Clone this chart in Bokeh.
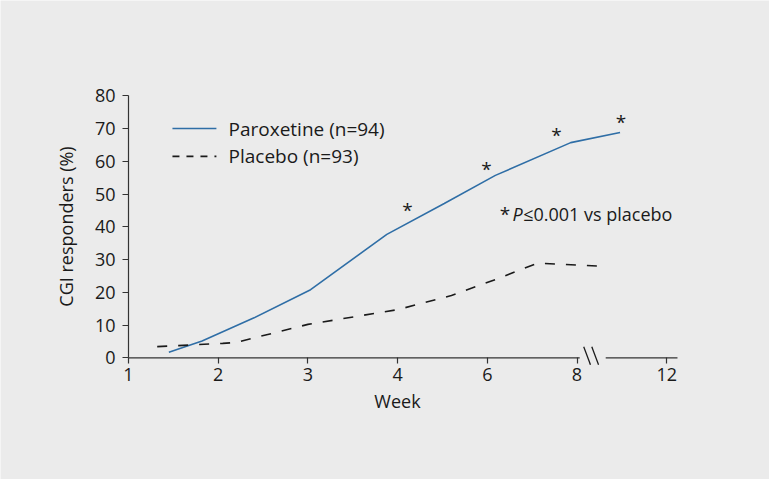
from bokeh.plotting import figure
from bokeh.models import Range1d, FixedTicker, Label
from bokeh.core.properties import value
from bokeh.embed import file_html
from bokeh.resources import INLINE

# ---- data ----
week_labels = ["1", "2", "3", "4", "6", "8", "12"]
week_pos = [0, 1, 2, 3, 4, 5, 6]

parox_x = [0.45, 0.82, 1.40, 2.03, 2.88, 3.52, 4.09, 4.93, 5.48]
parox_y = [1.7, 5.1, 12.2, 20.8, 37.7, 47.1, 55.7, 65.7, 68.8]

placebo_x = [0.32, 1.05, 1.20, 2.00, 3.00, 3.60, 4.10, 4.56, 5.34]
placebo_y = [3.4, 4.4, 4.7, 10.2, 14.7, 19.0, 24.0, 28.9, 27.9]

star_x = [3.11, 3.99, 4.77, 5.49]
star_y = [45.0, 57.6, 67.9, 71.9]

y_ticks = list(range(0, 81, 10))

FONT = "Open Sans"
BG = "#ebebeb"
BLUE = "#2f6ea6"
DARK = "#1a1a1a"
AXC = "#333333"
FS = "18px"

# axis break (in axis units) between "8" and "12"
brk_start, brk_end = 5.03, 5.32
x_axis_end = 6.12

p = figure(width=769, height=479, output_backend="svg", toolbar_location=None,
           x_range=Range1d(-1.427, 7.146), y_range=Range1d(-37.16, 109.1),
           min_border=0)
p.background_fill_color = BG
p.border_fill_color = BG
p.outline_line_color = None
p.grid.grid_line_color = None

# axes fixed at the data origin so that the break marks are not clipped
p.xaxis.fixed_location = 0
p.yaxis.fixed_location = 0
p.yaxis.ticker = FixedTicker(ticks=y_ticks)
p.yaxis.bounds = (0, 80)
p.xaxis.ticker = FixedTicker(ticks=week_pos)
p.xaxis.bounds = (0, 6)
p.xaxis.major_label_overrides = {pos: lab for pos, lab in zip(week_pos, week_labels)}
for ax in (p.xaxis, p.yaxis):
    ax.minor_tick_line_color = None
    ax.major_tick_in = 0
    ax.major_tick_out = 6
    ax.major_tick_line_color = AXC
    ax.major_tick_line_width = 1.2
    ax.axis_line_color = AXC
    ax.axis_line_width = 1.2
    ax.major_label_text_font = FONT
    ax.major_label_text_font_size = FS
    ax.major_label_text_color = DARK
    ax.axis_label_text_font = FONT
    ax.axis_label_text_font_size = FS
    ax.axis_label_text_font_style = "normal"
    ax.axis_label_text_color = DARK
p.xaxis.axis_line_color = None
p.xaxis.axis_label = "Week"
p.yaxis.axis_label = "CGI responders (%)"
p.xaxis.major_label_standoff = 4
p.yaxis.major_label_standoff = 7
p.xaxis.axis_label_standoff = 5
p.yaxis.axis_label_standoff = 14

# x axis line with break
p.segment(x0=[0, brk_end], y0=[0, 0], x1=[brk_start, x_axis_end], y1=[0, 0],
          line_color=AXC, line_width=1.2)
p.segment(x0=[brk_start + 0.045, brk_start + 0.135], y0=[3.4, 3.4],
          x1=[brk_start + 0.12, brk_start + 0.21], y1=[-2.1, -2.1],
          line_color=DARK, line_width=1.3)

# series
p.line(parox_x, parox_y, line_color=BLUE, line_width=1.6)
p.line(placebo_x, placebo_y, line_color=DARK, line_width=1.6, line_dash="10 11")

# significance stars
p.text(x=star_x, y=star_y, text=["*"] * len(star_x), text_font=value(FONT),
       text_font_size="19px", text_align="center", text_baseline="middle", text_color=DARK)

# legend (manual)
p.line([0.49, 0.98], [70, 70], line_color=BLUE, line_width=1.6)
p.line([0.49, 0.98], [61.5, 61.5], line_color=DARK, line_width=1.6, line_dash="7 7")
p.text(x=[1.115, 1.115], y=[70, 61.5], text=["Paroxetine (n=94)", "Placebo (n=93)"],
       text_font=value(FONT), text_font_size="19px", text_baseline="middle",
       text_align="left", text_color=DARK)

# annotation
p.add_layout(Label(x=4.14, y=44, text="*", text_font=FONT, text_font_size="19px",
                   text_baseline="middle", text_align="left", text_color=DARK))
p.add_layout(Label(x=4.28, y=44, text="P", text_font=FONT, text_font_size=FS,
                   text_font_style="italic", text_baseline="middle", text_align="left",
                   text_color=DARK))
p.add_layout(Label(x=4.40, y=44, text="≤0.001 vs placebo", text_font=FONT,
                   text_font_size=FS, text_baseline="middle", text_align="left",
                   text_color=DARK))

open("out.html", "w").write(file_html(p, INLINE))
